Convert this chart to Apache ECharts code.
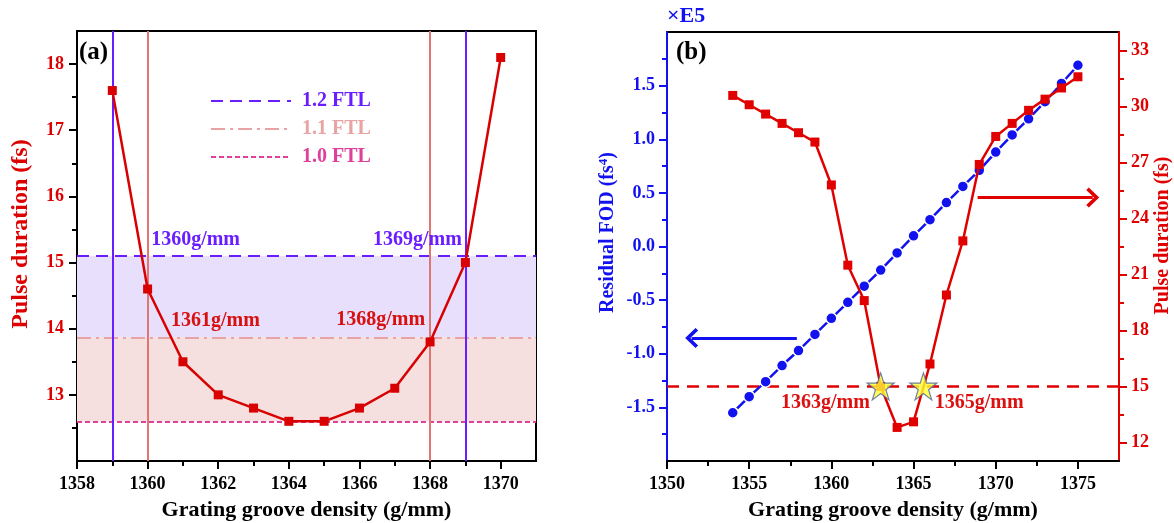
<!DOCTYPE html>
<html><head><meta charset="utf-8">
<script src="https://cdn.jsdelivr.net/npm/echarts@6/dist/echarts.min.js"></script>
<style>html,body{margin:0;padding:0;background:#fff}#c{width:1174px;height:523px}</style>
</head><body><div id="c"></div>
<script>
const FONT = '"Liberation Serif","Times New Roman",serif';

// ---------- Panel (a) ----------
const aDensity = [1359,1360,1361,1362,1363,1364,1365,1366,1367,1368,1369,1370];
const aPulse   = [17.6,14.6,13.5,13.0,12.8,12.6,12.6,12.8,13.1,13.8,15.0,18.1];
const aXTicks  = [1358,1360,1362,1364,1366,1368,1370];
const aXMinor  = [1359,1361,1363,1365,1367,1369];
const aYTicks  = [13,14,15,16,17,18];
const aYMinor  = [12.5,13.5,14.5,15.5,16.5,17.5];
const ftlNames  = ['1.2 FTL','1.1 FTL','1.0 FTL'];
const ftlValues = [15.1,13.87,12.6];
const purpleCross = [1359,1369];
const redCross    = [1360,1368];
const aLabelText  = ['1360g/mm','1369g/mm','1361g/mm','1368g/mm'];
const aLabelAt    = [[1360.1,15.34],[1368.9,15.35],[1360.66,14.12],[1367.86,14.13]];

// ---------- Panel (b) ----------
const bDensity = [1354,1355,1356,1357,1358,1359,1360,1361,1362,1363,1364,1365,1366,1367,1368,1369,1370,1371,1372,1373,1374,1375];
const bFOD     = [-1.55,-1.40,-1.26,-1.11,-0.97,-0.82,-0.67,-0.52,-0.37,-0.22,-0.06,0.10,0.25,0.41,0.56,0.71,0.88,1.04,1.19,1.35,1.52,1.69];
const bPulse   = [30.6,30.1,29.6,29.1,28.6,28.1,25.8,21.5,19.6,15.0,12.8,13.1,16.2,19.9,22.8,26.9,28.4,29.1,29.8,30.4,31.0,31.6];
const bXTicks  = [1350,1355,1360,1365,1370,1375];
const bXMinor  = [1352.5,1357.5,1362.5,1367.5,1372.5];
const fodTicks = [-1.5,-1,-0.5,0,0.5,1,1.5];
const fodMinor = [-1.75,-1.25,-0.75,-0.25,0.25,0.75,1.25,1.75];
const bYTicks  = [12,15,18,21,24,27,30,33];
const bYMinor  = [13.5,16.5,19.5,22.5,25.5,28.5,31.5];
const targetPulse = 15;
const starPoints  = [[1363,15],[1365.6,15]];
const bLabelText  = ['1363g/mm','1365g/mm'];
const bLabelAt    = [[1362.34,14.14],[1366.29,14.14]];
const blueArrow   = [[1357.9,-0.853],[1351.5,-0.853]];
const redArrow    = [[1368.9,25.13],[1375.9,25.13]];

const PURPLE = '#6a1eff', SALMON = '#e07672', PINK = '#e8a4a4', MAGENTA = '#e0409a';
const REDA = '#d80000', RED = '#e00000', BLUE = '#1212f0';
const STAR = 'path://M50,2 L61.8,38.2 L100,38.2 L69.1,61.8 L80.9,98 L50,75.5 L19.1,98 L30.9,61.8 L0,38.2 L38.2,38.2 Z';
const CHEVRON = 'path://M10,0 L20,10 L17.5,12.5 L10,5 L2.5,12.5 L0,10 Z';

function txt(color, size) { return {color: color, fontFamily: FONT, fontWeight: 'bold', fontSize: size}; }

function mainAxis(o) {
  const a = {
    type: 'value', gridIndex: o.grid, min: o.min, max: o.max, position: o.pos,
    axisLine: {show: true, onZero: false, lineStyle: {color: o.lineColor, width: 2}},
    axisTick: {show: true, customValues: o.ticks, length: 8, lineStyle: {color: o.lineColor, width: 2}},
    axisLabel: Object.assign({customValues: o.ticks, margin: o.margin || 10, formatter: o.fmt || (v => String(v))}, txt(o.labelColor, 18)),
    splitLine: {show: false}
  };
  if (o.name) {
    a.name = o.name; a.nameLocation = 'middle'; a.nameGap = o.nameGap;
    a.nameTextStyle = Object.assign(txt(o.nameColor, o.nameSize), o.rich ? {rich: o.rich} : {}, o.namePad ? {padding: o.namePad} : {});
  }
  return a;
}
function minorAxis(o) {
  return {
    type: 'value', gridIndex: o.grid, min: o.min, max: o.max, position: o.pos,
    axisLine: {show: false, onZero: false},
    axisTick: {show: true, customValues: o.minor, length: 5, lineStyle: {color: o.lineColor, width: 2}},
    axisLabel: {show: false}, splitLine: {show: false}
  };
}

const axA_x = {grid: 0, min: 1358, max: 1371, pos: 'bottom', lineColor: '#000', labelColor: '#000', ticks: aXTicks, minor: aXMinor,
  name: 'Grating groove density (g/mm)', nameGap: 38, nameColor: '#000', nameSize: 22, margin: 14};
const axA_y = {grid: 0, min: 12, max: 18.5, pos: 'left', lineColor: '#000', labelColor: '#dd0000', ticks: aYTicks, minor: aYMinor,
  name: 'Pulse duration (fs)', nameGap: 44, nameColor: '#dd0000', nameSize: 24, margin: 13, namePad: [0, 0, 0, 24]};
const axB_x = {grid: 1, min: 1350, max: 1377.5, pos: 'bottom', lineColor: '#000', labelColor: '#000', ticks: bXTicks, minor: bXMinor,
  name: 'Grating groove density (g/mm)', nameGap: 38, nameColor: '#000', nameSize: 22, margin: 14};
const axB_fod = {grid: 1, min: -2, max: 2, pos: 'left', lineColor: BLUE, labelColor: BLUE, ticks: fodTicks, minor: fodMinor,
  name: 'Residual FOD (fs{sup|4})', nameGap: 48, nameColor: BLUE, nameSize: 20, margin: 12, fmt: v => v.toFixed(1),
  namePad: [0, 0, 0, 28],
  rich: {sup: {color: BLUE, fontFamily: FONT, fontWeight: 'bold', fontSize: 13, verticalAlign: 'top', lineHeight: 22}}};
const axB_p = {grid: 1, min: 11, max: 34, pos: 'right', lineColor: RED, labelColor: RED, ticks: bYTicks, minor: bYMinor,
  name: 'Pulse duration (fs)', nameGap: 34, nameColor: RED, nameSize: 20, margin: 12, namePad: [0, 0, 0, 22]};

const ftlStyles = [
  {color: PURPLE, width: 2, type: [12, 7]},
  {color: PINK, width: 2, type: [14, 5, 3, 5]},
  {color: MAGENTA, width: 2, type: [5, 3]}
];
const ftlAreas = [
  {color: '#e7dffc', from: ftlValues[1], to: ftlValues[0]},
  {color: '#f5e0df', from: ftlValues[2], to: ftlValues[1]},
  null
];

const series = [];
ftlNames.forEach((n, i) => {
  const s = {
    name: n, type: 'line', xAxisIndex: 0, yAxisIndex: 0, data: [], symbol: 'none', showSymbol: false,
    lineStyle: ftlStyles[i], itemStyle: {color: ftlStyles[i].color}, z: 2,
    markLine: {silent: true, symbol: 'none', label: {show: false}, lineStyle: ftlStyles[i], data: [{yAxis: ftlValues[i]}], z: 3}
  };
  if (ftlAreas[i]) {
    s.markArea = {silent: true, itemStyle: {color: ftlAreas[i].color}, data: [[{yAxis: ftlAreas[i].from}, {yAxis: ftlAreas[i].to}]], z: 1};
  }
  series.push(s);
});
series.push({
  name: 'crossings', type: 'line', xAxisIndex: 0, yAxisIndex: 0, data: [], symbol: 'none', z: 3,
  markLine: {silent: true, symbol: 'none', label: {show: false},
    data: purpleCross.map(x => ({xAxis: x, lineStyle: {color: PURPLE, width: 2, type: 'solid'}}))
      .concat(redCross.map(x => ({xAxis: x, lineStyle: {color: SALMON, width: 2, type: 'solid'}})))},
  markPoint: {silent: true, symbol: 'circle', symbolSize: 0,
    data: aLabelText.map((t, i) => ({coord: aLabelAt[i], label: Object.assign({show: true, formatter: t,
      position: (i % 2 === 0) ? 'right' : 'left', distance: 0}, txt(i < 2 ? PURPLE : '#d81010', 20))}))}
});
series.push({
  name: 'pulseA', type: 'line', xAxisIndex: 0, yAxisIndex: 0, z: 6,
  data: aDensity.map((x, i) => [x, aPulse[i]]),
  symbol: 'rect', symbolSize: 9, itemStyle: {color: REDA}, lineStyle: {color: REDA, width: 2.5}
});
series.push({
  name: 'fod', type: 'line', xAxisIndex: 2, yAxisIndex: 2, z: 5,
  data: bDensity.map((x, i) => [x, bFOD[i]]),
  symbol: 'circle', symbolSize: 11, itemStyle: {color: BLUE, borderColor: '#fff', borderWidth: 1.5},
  lineStyle: {color: BLUE, width: 2.5},
  markLine: {silent: true, symbol: ['none', CHEVRON], symbolSize: [20, 13], label: {show: false},
    lineStyle: {color: BLUE, width: 3, type: 'solid'},
    data: [[{coord: blueArrow[0]}, {coord: blueArrow[1]}]]}
});
series.push({
  name: 'pulseB', type: 'line', xAxisIndex: 2, yAxisIndex: 4, z: 6,
  data: bDensity.map((x, i) => [x, bPulse[i]]),
  symbol: 'rect', symbolSize: 9, itemStyle: {color: RED}, lineStyle: {color: RED, width: 2.5},
  markLine: {silent: true, label: {show: false}, symbol: 'none',
    data: [
      {yAxis: targetPulse, symbol: 'none', lineStyle: {color: RED, width: 2.5, type: [12, 8]}},
      [{coord: redArrow[0], symbol: 'none', lineStyle: {color: RED, width: 3, type: 'solid'}},
       {coord: redArrow[1], symbol: CHEVRON, symbolSize: [20, 13]}]
    ]},
  markPoint: {silent: true, symbol: 'circle', symbolSize: 0,
    data: bLabelText.map((t, i) => ({coord: bLabelAt[i], label: Object.assign({show: true, formatter: t,
      position: i === 0 ? 'left' : 'right', distance: 0}, txt('#dd1010', 20))}))}
});
series.push({
  name: 'stars', type: 'scatter', xAxisIndex: 2, yAxisIndex: 4, z: 8,
  data: starPoints, symbol: STAR, symbolSize: 27,
  itemStyle: {color: '#ffff33', borderColor: '#4d6199', borderWidth: 1.2}
});

const option = {
  animation: false,
  backgroundColor: '#fff',
  grid: [
    {left: 77, right: 638, top: 31, bottom: 62, show: true, borderColor: '#000', borderWidth: 2, outerBoundsMode: 'none'},
    {left: 667, right: 55, top: 32, bottom: 62, show: true, borderColor: '#000', borderWidth: 2, outerBoundsMode: 'none'}
  ],
  xAxis: [mainAxis(axA_x), minorAxis(axA_x), mainAxis(axB_x), minorAxis(axB_x)],
  yAxis: [mainAxis(axA_y), minorAxis(axA_y), mainAxis(axB_fod), minorAxis(axB_fod), mainAxis(axB_p), minorAxis(axB_p)],
  legend: {
    left: 205, top: 86, orient: 'vertical', itemWidth: 80, itemHeight: 14, itemGap: 8,
    selectedMode: false,
    itemStyle: {opacity: 0, borderWidth: 0},
    data: ftlNames.map((n, i) => ({name: n, textStyle: txt(ftlStyles[i].color, 20)})),
    textStyle: Object.assign({padding: [0, 0, 0, 6]}, txt('#000', 20))
  },
  graphic: [
    {type: 'text', left: 79, top: 40, style: {text: '(a)', fill: '#000', font: 'bold 25px ' + FONT}},
    {type: 'text', left: 676, top: 40, style: {text: '(b)', fill: '#000', font: 'bold 25px ' + FONT}},
    {type: 'text', left: 667, top: 5, style: {text: '×E5', fill: BLUE, font: 'bold 22px ' + FONT}}
  ],
  series: series
};
echarts.init(document.getElementById('c')).setOption(option);
</script>
</body></html>
